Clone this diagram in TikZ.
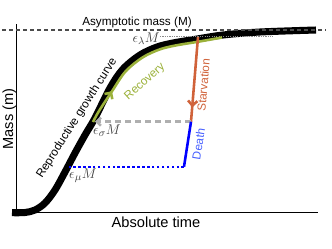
\documentclass[tikz,border=0pt]{standalone}
\usepackage{fontspec}
\setmainfont{Liberation Sans}
\usetikzlibrary{arrows.meta, decorations.markings}
\definecolor{RecGreen}{RGB}{155,177,58}
\definecolor{StarvOrange}{RGB}{208,98,58}
\definecolor{DeathBlue}{RGB}{0,0,255}
\definecolor{DeathText}{RGB}{70,95,255}
\definecolor{LevelGray}{RGB}{175,175,175}

\begin{document}
\begin{tikzpicture}[x=0.03cm, y=-0.03cm,
          axis/.style={line width=0.8pt},
          biglbl/.style={font=\fontsize{12.5}{14}\selectfont},
          lbl/.style={font=\fontsize{10}{12}\selectfont},
          eps/.style={font=\fontsize{13}{15}\selectfont, text=black!75, inner sep=0pt},
          arr/.style={-{Straight Barb[length=3.5pt, width=7pt]}},
          midarrow/.style={postaction={decorate}, decoration={markings,
                       mark=at position #1 with {\arrow{Straight Barb[length=4pt, width=8pt]}}}}
        ]
        \useasboundingbox (0,0) rectangle (332,249);

        % axes
        \draw[axis] (16,24) -- (16,212.7) -- (318,212.7);
        \node[biglbl, anchor=base] (xlbl) at (156,227.3) {Absolute time};
        \node[biglbl, anchor=base, rotate=90] (ylbl) at (13,119) {Mass (m)};

        % growth curve
        \draw[line width=6pt] plot[smooth, tension=0.55] coordinates {
              (12,212.7) (25,212.5) (35,210) (45,203) (55,190) (65,172) (75,153)
              (85,135) (95,118) (110,88) (123,69) (140,55) (157,47) (173,43)
              (197,39) (223,35) (260,32) (316,30)};
        \node[lbl, anchor=base, rotate=57.5] (curvelbl) at (79.5,120)
              {Reproductive growth curve};

        % asymptote
        \draw[black!70, line width=0.9pt, dash pattern=on 3.5pt off 2.5pt] (2,30) -- (326,30);
        \node[lbl, anchor=base] (asym) at (137,25.7) {Asymptotic mass (M)};

        % levels
        \coordinate (lam) at (198,37);
        \coordinate (sig) at (191,121.7);
        \coordinate (mu) at (184,166.7);
        \coordinate (sigcurve) at (95,121.7);
        \coordinate (mucurve) at (69,166.7);
        \draw[black!45, line width=0.7pt, dash pattern=on 1pt off 1pt] (160,36) -- (273,36);
        \node[eps, anchor=east] (lamlbl) at (160,38.5) {$\epsilon_\lambda M$};

        % recovery
        \draw[RecGreen, line width=2.2pt, midarrow=0.22] plot[smooth, tension=0.55] coordinates {
              (93,122) (99,111) (112.5,90.5) (125.5,71.5) (142.5,57.5) (159.5,49.5)
              (175.5,45.5) (199.5,41.5) (222,37.5)};
        \node[lbl, text=RecGreen, rotate=42] (reclbl) at (145,82) {Recovery};

        % starvation
        \draw[StarvOrange, line width=2.2pt, midarrow=0.83] (lam) -- (sig);
        \node[lbl, text=StarvOrange, rotate=85] (starvlbl) at (203.5,85) {Starvation};

        % death
        \draw[LevelGray, line width=2.2pt, dash pattern=on 5pt off 3.5pt, arr] (sig) -- (sigcurve);
        \node[eps, anchor=west] (siglbl) at (93,131) {$\epsilon_\sigma M$};
        \draw[DeathBlue, line width=2.2pt] (sig) -- (mu);
        \draw[DeathBlue, line width=1.4pt, dash pattern=on 2.2pt off 2pt] (mu) -- (mucurve);
        \node[eps, anchor=west] (mulbl) at (69,176) {$\epsilon_\mu M$};
        \node[lbl, text=DeathText, rotate=81] (deathlbl) at (198.5,144) {Death};
      \end{tikzpicture}
\end{document}
